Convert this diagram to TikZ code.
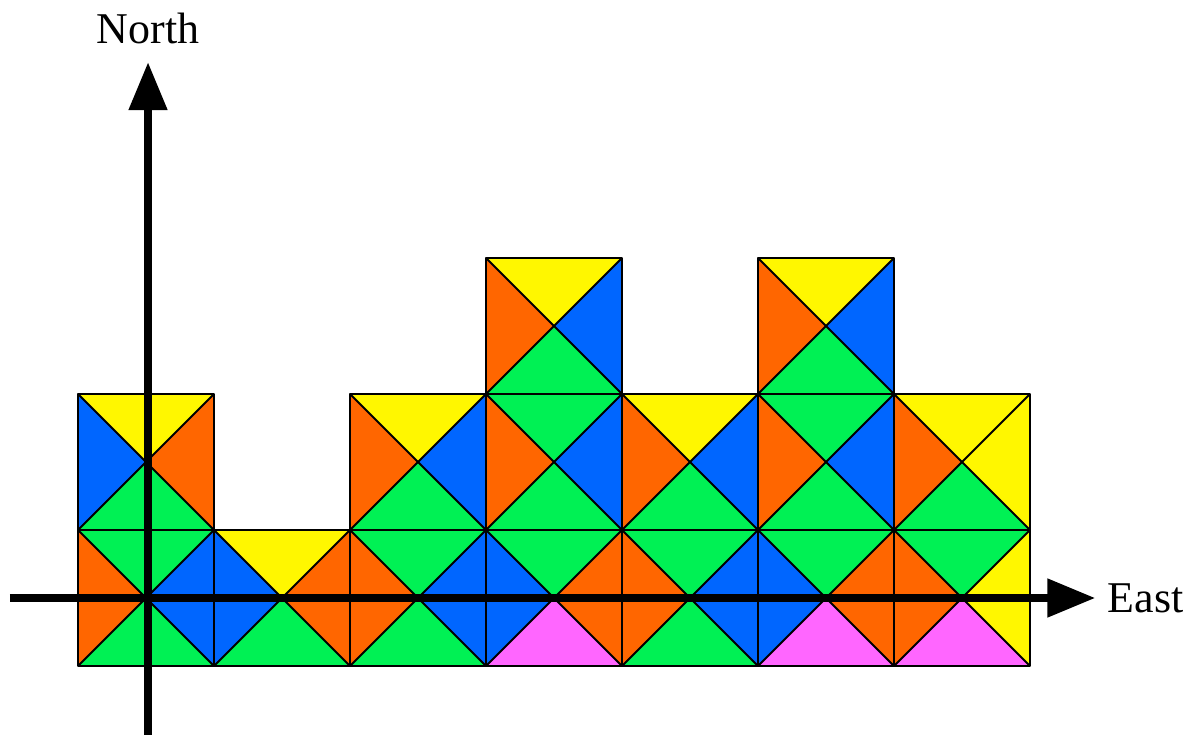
\documentclass[tikz,border=0pt]{standalone}
\usepackage{fontspec}
\setmainfont{Liberation Serif}
\usetikzlibrary{arrows.meta}
\definecolor{wyellow}{HTML}{FFF700}
\definecolor{worange}{HTML}{FF6600}
\definecolor{wblue}{HTML}{0066FF}
\definecolor{wgreen}{HTML}{00F154}
\definecolor{wpink}{HTML}{FF66FF}

\begin{document}
\begin{tikzpicture}[x=2.72cm,y=2.72cm,
    edge/.style={draw=black,line width=1.1pt,line join=round},
    axisline/.style={line width=4.6pt,-{Triangle[length=0.96cm,width=0.74cm]}},
    lbl/.style={font=\fontsize{25}{30}\selectfont,inner sep=0pt}]
  \useasboundingbox (-0.5735,-0.507) rectangle (8.191,4.897);
  % tiles: column/row/top/right/bottom/left
  \foreach \cx/\cy/\ct/\cr/\cb/\cl in {
      0/0/wgreen/wblue/wgreen/worange, 0/1/wyellow/worange/wgreen/wblue,
      1/0/wyellow/worange/wgreen/wblue,
      2/0/wgreen/wblue/wgreen/worange, 2/1/wyellow/wblue/wgreen/worange,
      3/0/wgreen/worange/wpink/wblue, 3/1/wgreen/wblue/wgreen/worange,
      3/2/wyellow/wblue/wgreen/worange,
      4/0/wgreen/wblue/wgreen/worange, 4/1/wyellow/wblue/wgreen/worange,
      5/0/wgreen/worange/wpink/wblue, 5/1/wgreen/wblue/wgreen/worange,
      5/2/wyellow/wblue/wgreen/worange,
      6/0/wgreen/wyellow/wpink/worange, 6/1/wyellow/wyellow/wgreen/worange} {
    \coordinate (m) at (\cx+0.5,\cy+0.5);
    \fill[\ct] (\cx,\cy+1) -- (\cx+1,\cy+1) -- (m) -- cycle;
    \fill[\cr] (\cx+1,\cy+1) -- (\cx+1,\cy) -- (m) -- cycle;
    \fill[\cb] (\cx+1,\cy) -- (\cx,\cy) -- (m) -- cycle;
    \fill[\cl] (\cx,\cy) -- (\cx,\cy+1) -- (m) -- cycle;
    \draw[edge] (\cx,\cy) rectangle (\cx+1,\cy+1);
    \draw[edge] (\cx,\cy) -- (\cx+1,\cy+1) (\cx,\cy+1) -- (\cx+1,\cy);
  }
  % axes
  \node[lbl,anchor=west] (east) at (7.57,0.5) {East};
  \node[lbl] (north) at (0.515,4.69) {North};
  \coordinate (west end) at (-0.5,0.5);
  \coordinate (east tip) at (7.48,0.5);
  \coordinate (south end) at (0.515,-0.52);
  \coordinate (north tip) at (0.515,4.44);
  \draw[axisline] (west end) -- (east tip);
  \draw[axisline] (south end) -- (north tip);
\end{tikzpicture}
\end{document}
